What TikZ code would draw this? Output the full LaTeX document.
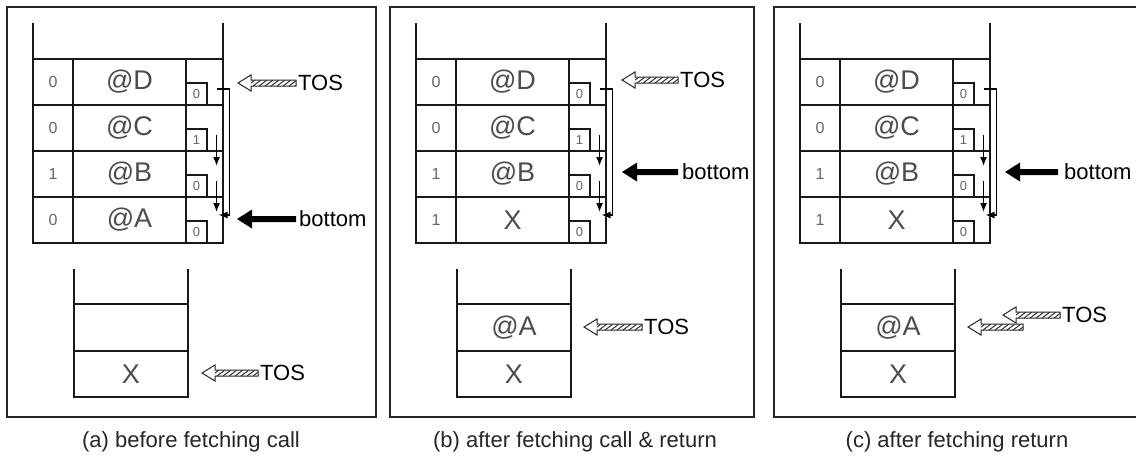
\documentclass[tikz,border=0pt]{standalone}
\usepackage{fontspec}
\setmainfont{Liberation Sans}
\usetikzlibrary{arrows.meta,calc}
\tikzset{
  frame/.style={draw=black!85,line width=1.4pt},
  stk/.style={draw=black!90,line width=1.2pt},
  cell/.style={font=\fontsize{27}{27}\selectfont,text=black!70,inner sep=0pt},
  digit/.style={font=\fontsize{16}{16}\selectfont,text=black!60,inner sep=0pt},
  flagbox/.style={draw=black!90,line width=1.1pt,rectangle,minimum width=21pt,minimum height=22pt,inner sep=0pt,
     font=\fontsize{13}{13}\selectfont,text=black!60},
  lbl/.style={font=\fontsize{22}{22}\selectfont,anchor=west,inner sep=0pt},
  capt/.style={font=\fontsize{22}{22}\selectfont,text=black!85,inner sep=0pt},
  link/.style={line width=1.4pt,-{Latex[length=9pt,width=7pt]}},
}
% hatched hollow arrow, tail at #1, pointing left, length #2
\newcommand\hatcharrow[2]{%
  \begin{scope}[shift={(#1)}]
    \filldraw[fill=white,draw=black!85,line width=1pt]
      (-#2,0) -- (-#2+13,-8) -- (-#2+13,-3) -- (0,-3) -- (0,3) -- (-#2+13,3) -- (-#2+13,8) -- cycle;
    \begin{scope}
      \clip (-#2+13,-3) rectangle (0,3);
      \foreach \i in {0,6,...,60} \draw[line width=1pt,black!80] (-#2+13+\i-4,3) -- (-#2+13+\i+4,-3);
    \end{scope}
  \end{scope}}
% solid black arrow, tail at #1, pointing left, length #2
\newcommand\blackarrow[2]{%
  \begin{scope}[shift={(#1)}]
    \fill[black] (0,-3) -- (-#2+15,-3) -- (-#2+15,-9.5) -- (-#2,0) -- (-#2+15,9.5) -- (-#2+15,3) -- (0,3) -- cycle;
  \end{scope}}
% upper stack: #1 prefix, #2 rows r/v/c/f
\newcommand\upperstack[2]{%
  \draw[stk] (33,23) -- (33,243) -- (223,243) -- (223,23);
  \foreach \r/\v/\c/\f in {#2} {
    \pgfmathsetmacro\t{59+46*(\r-1)}
    \draw[stk] (33,\t) -- (223,\t);
    \draw[stk] (73,\t) -- (73,\t+46);
    \draw[stk] (186,\t) -- (186,\t+46);
    \node[digit] (#1v\r) at (53,\t+23) {\v};
    \node[cell] (#1c\r) at (129.5,\t+23) {\c};
    \node[flagbox] (#1f\r) at (196.5,\t+35) {\f};
  }
  \draw[link] ($(#1f1.east)+(9,-5)$) -| ($(#1f4.east)+(22,-17)$) -- ($(#1f4.east)+(11,-17)$);
  \draw[link] ($(#1f2.east)+(9,-5)$) -- ($(#1f2.east)+(9,26)$);
  \draw[link] ($(#1f3.east)+(9,-5)$) -- ($(#1f3.east)+(9,26)$);
}
\newcommand\lowerstack{%
  \draw[stk] (74,269) -- (74,397) -- (188,397) -- (188,269);
  \draw[stk] (74,304) -- (188,304);
  \draw[stk] (74,351) -- (188,351);
}
\begin{document}
\begin{tikzpicture}[x=1pt,y=-1pt]
\useasboundingbox (0,0) rectangle (1136,456);
\fill[white] (0,0) rectangle (1136,456);
% frames
\draw[frame] (7,7) rectangle (376,417);
\draw[frame] (390,7) rectangle (754,417);
\draw[frame] (1136,7) -- (774,7) -- (774,417) -- (1136,417);

% ---- panel (a)
\begin{scope}
  \upperstack{a}{1/0/@D/0,2/0/@C/1,3/1/@B/0,4/0/@A/0}
  \lowerstack
  \node[cell] (al1) at (131,374) {X};
\end{scope}
\node[lbl] (atos) at (298,83) {TOS};
\hatcharrow{$(atos.west)+(-2,0)$}{58}
\node[lbl] (abot) at (299,219) {bottom};
\blackarrow{$(abot.west)+(-3,0)$}{59}
\node[lbl] (atos2) at (260,373) {TOS};
\hatcharrow{$(atos2.west)+(-2,0)$}{56}
\node[capt] (capa) at (191,442) {(a) before fetching call};

% ---- panel (b)
\begin{scope}[shift={(383,0)}]
  \upperstack{b}{1/0/@D/0,2/0/@C/1,3/1/@B/0,4/1/X/0}
  \lowerstack
  \node[cell] (bl2) at (131,327.5) {@A};
  \node[cell] (bl1) at (131,374) {X};
\end{scope}
\node[lbl] (btos) at (680,80) {TOS};
\hatcharrow{$(btos.west)+(-2,0)$}{56}
\node[lbl] (bbot) at (682,172) {bottom};
\blackarrow{$(bbot.west)+(-4,0)$}{56}
\node[lbl] (btos2) at (644,327) {TOS};
\hatcharrow{$(btos2.west)+(-2,0)$}{58}
\node[capt] (capb) at (575,442) {(b) after fetching call \& return};

% ---- panel (c)
\begin{scope}[shift={(767,0)}]
  \upperstack{c}{1/0/@D/0,2/0/@C/1,3/1/@B/0,4/1/X/0}
  \lowerstack
  \node[cell] (cl2) at (131,327.5) {@A};
  \node[cell] (cl1) at (131,374) {X};
\end{scope}
\node[lbl] (cbot) at (1064,172) {bottom};
\blackarrow{$(cbot.west)+(-6,0)$}{53}
\node[lbl] (ctos) at (1062,315) {TOS};
\hatcharrow{$(ctos.west)+(-2,0)$}{57}
\coordinate (ctail) at (1023,327);
\hatcharrow{ctail}{55}
\node[capt] (capc) at (957,442) {(c) after fetching return};
\end{tikzpicture}
\end{document}
